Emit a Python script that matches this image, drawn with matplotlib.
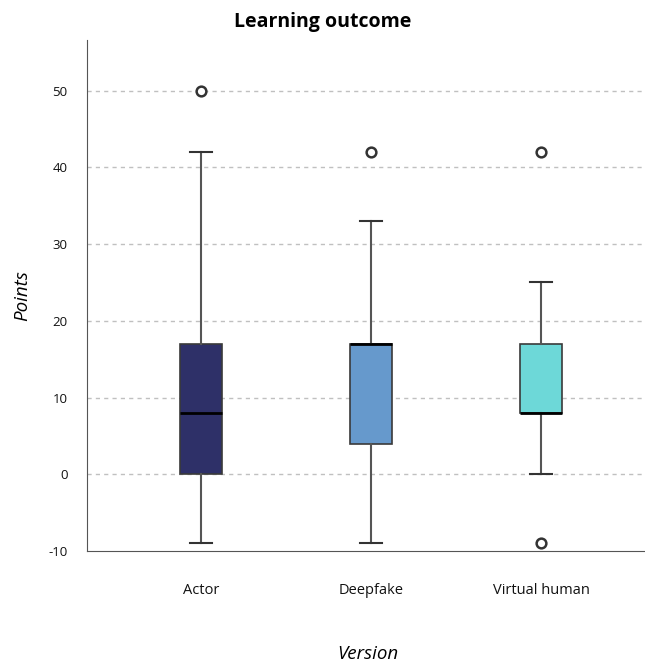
import matplotlib.pyplot as plt

versions = ["Actor", "Deepfake", "Virtual human"]
whisker_low = [-9, -9, 0]
q1 = [0, 4, 8]
medians = [8, 17, 8]
q3 = [17, 17, 17]
whisker_high = [42, 33, 25]
outliers = [[50], [42], [42, -9]]
box_colors = ["#2e3068", "#6699cc", "#6dd8d8"]

plt.rcParams["font.family"] = ["Open Sans", "DejaVu Sans"]
plt.rcParams["axes.unicode_minus"] = False

fig = plt.figure(figsize=(6.45, 6.64), dpi=100)
ax = fig.add_axes([0.135, 0.17, 0.87, 0.77])

stats = []
for i, name in enumerate(versions):
    stats.append({
        "label": name,
        "whislo": whisker_low[i],
        "q1": q1[i],
        "med": medians[i],
        "q3": q3[i],
        "whishi": whisker_high[i],
        "fliers": outliers[i],
    })

bp = ax.bxp(
    stats,
    positions=range(len(versions)),
    widths=0.25,
    patch_artist=True,
    showfliers=True,
    boxprops=dict(edgecolor="#3a3a3a", linewidth=1.2),
    medianprops=dict(color="black", linewidth=2),
    whiskerprops=dict(color="#555555", linewidth=1.5),
    capprops=dict(color="#333333", linewidth=1.5),
    capwidths=0.13,
    flierprops=dict(marker="o", markersize=7, markerfacecolor="white",
                    markeredgecolor="#333333", markeredgewidth=1.8),
)
for patch, color in zip(bp["boxes"], box_colors):
    patch.set_facecolor(color)

ax.set_xlim(-0.67, 2.63)
ax.set_ylim(-10, 56.6)
ax.set_yticks([-10, 0, 10, 20, 30, 40, 50])
for y in [0, 10, 20, 30, 40, 50]:
    ax.axhline(y, color="#c0c0c0", linestyle=(0, (3, 3)), linewidth=1, zorder=0)

ax.spines["top"].set_visible(False)
ax.spines["right"].set_visible(False)
ax.spines["left"].set_color("#555555")
ax.spines["bottom"].set_color("#555555")
ax.tick_params(axis="both", length=0, labelsize=9.5, colors="#111111")
ax.tick_params(axis="x", pad=23, labelsize=10.5)
ax.tick_params(axis="y", pad=14)

# title is centred on the whole figure, not the axes
fig.text(0.5, 0.967, "Learning outcome", ha="center", va="center",
         fontsize=14, fontweight="bold")
ax.set_ylabel("Points", fontsize=13.5, style="italic", labelpad=12)
ax.set_xlabel("Version", fontsize=13.5, style="italic", labelpad=34)

fig.savefig("out.png", dpi=100)
